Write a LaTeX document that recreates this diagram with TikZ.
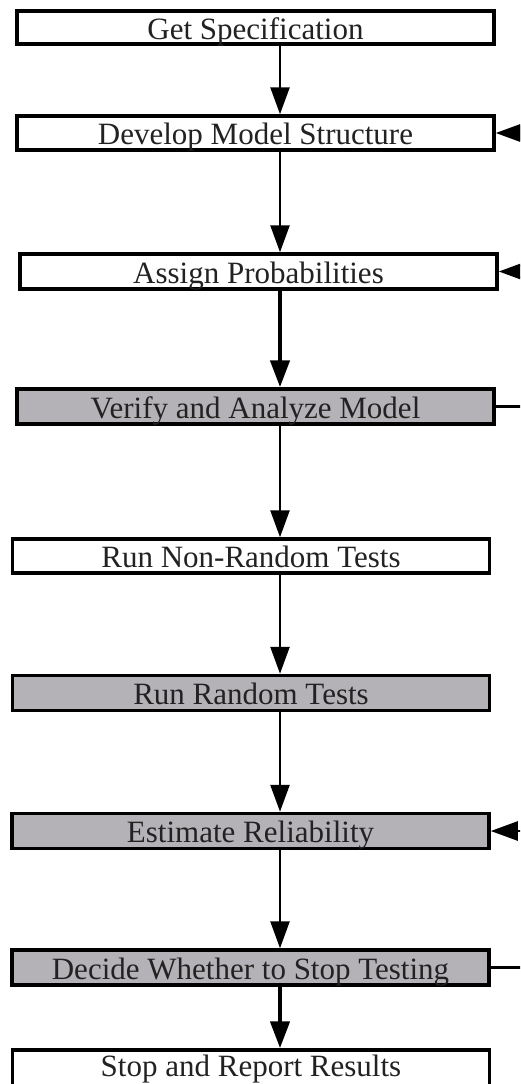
\documentclass[tikz,border=0pt]{standalone}
\usepackage{fontspec}
\setmainfont{Liberation Serif}
\usetikzlibrary{arrows.meta}
\definecolor{boxgray}{HTML}{B4B2B6}
\definecolor{ink}{HTML}{222222}
\tikzset{
  stage/.style={draw=black, line width=3.5pt, minimum width=477pt, inner sep=0pt,
    text height=23pt, text depth=0pt,
    font=\fontsize{31}{32}\selectfont, text=ink, anchor=center},
  plain/.style={stage, fill=white},
  shaded/.style={stage, fill=boxgray},
  flow/.style={line width=2.6pt, -{Triangle[length=27pt,width=19pt]}},
  boldflow/.style={flow, line width=4.5pt},
  feed/.style={line width=2.6pt}
}
\begin{document}
\begin{tikzpicture}[x=1pt,y=-1pt]
  \useasboundingbox (0,0) rectangle (520,1084);
  \clip (0,0) rectangle (520,1084);
  \coordinate (spine) at (280,0);
  \coordinate (edge) at (522,0);

  \node[plain,  minimum height=33pt] (gs) at (255.5,27.5)  {Get Specification};
  \node[plain,  minimum height=34pt] (dm) at (255.5,133)   {Develop Model Structure};
  \node[plain,  minimum height=35pt] (ap) at (258.5,271.5) {Assign Probabilities};
  \node[shaded, minimum height=35pt] (va) at (255.5,406.5) {Verify and Analyze Model};
  \node[plain,  minimum height=34pt] (nr) at (251,556)     {Run Non-Random Tests};
  \node[shaded, minimum height=35pt] (rr) at (251,693)     {Run Random Tests};
  \node[shaded, minimum height=35pt] (er) at (250.5,831)   {Estimate Reliability};
  \node[shaded, minimum height=35pt] (dw) at (250.5,967.5) {Decide Whether to Stop Testing};
  \node[plain,  minimum height=40pt, text depth=10pt] (sr) at (251,1070) {Stop and Report Results};

  % main flow down the spine
  \draw[flow]     (gs.south -| spine) -- (dm.north -| spine);
  \draw[flow]     (dm.south -| spine) -- (ap.north -| spine);
  \draw[boldflow] (ap.south -| spine) -- (va.north -| spine);
  \draw[flow]     (va.south -| spine) -- (nr.north -| spine);
  \draw[flow]     (nr.south -| spine) -- (rr.north -| spine);
  \draw[flow]     (rr.south -| spine) -- (er.north -| spine);
  \draw[flow]     (er.south -| spine) -- (dw.north -| spine);
  \draw[boldflow] (dw.south -| spine) -- (sr.north -| spine);

  % feedback lines leaving to the right
  \draw[feed] (va.east) -- (va.east -| edge);
  \draw[feed] (dw.east) -- (dw.east -| edge);
  \draw[flow] (dm.east -| edge) -- (dm.east);
  \draw[flow] (ap.east -| edge) -- (ap.east);
  \draw[flow] (er.east -| edge) -- (er.east);
\end{tikzpicture}
\end{document}
